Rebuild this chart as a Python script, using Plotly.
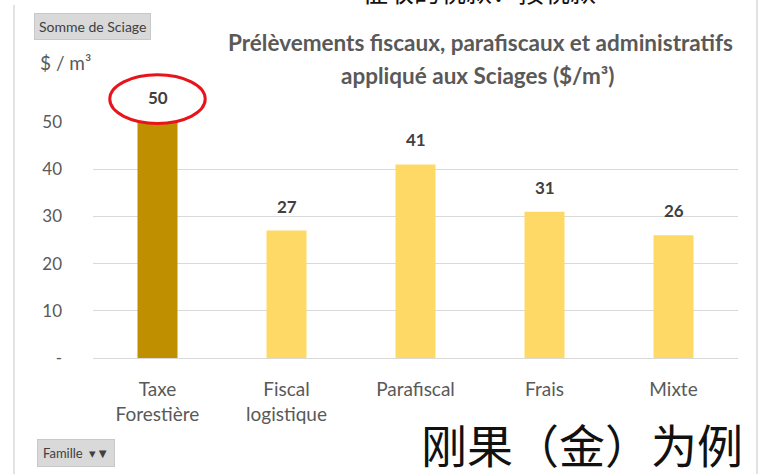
import plotly.graph_objects as go

categories = ["Taxe<br>Forestière", "Fiscal<br>logistique", "Parafiscal", "Frais", "Mixte"]
values = [50, 27, 41, 31, 26]
bar_colors = ["#BF8F00", "#FFD966", "#FFD966", "#FFD966", "#FFD966"]
y_tickvals = [0, 10, 20, 30, 40, 50]
y_ticktext = ["-", "10", "20", "30", "40", "50"]
y_max = 50

W, H = 767, 474
L, R, T, B = 93, 29, 122, 116
pw, ph = W - L - R, H - T - B
n = len(categories)

def px_x(p):
    return (p - L) / pw

def px_y(p):
    return (H - B - p) / ph

FONT = "Lato"
GRAY = "#595959"

fig = go.Figure()
fig.add_trace(go.Bar(
    x=list(range(n)), y=values,
    marker=dict(color=bar_colors, line=dict(width=0)),
    width=0.31, hoverinfo="skip",
))

annotations = []
for i, v in enumerate(values):
    annotations.append(dict(
        x=i, y=v, xref="x", yref="y", text=f"<b>{v}</b>", showarrow=False,
        yanchor="bottom", yshift=12, font=dict(family=FONT, size=17, color="#404040"),
    ))

annotations += [
    dict(x=px_x(480), y=px_y(42), xref="paper", yref="paper",
         text="<b>Prélèvements fiscaux, parafiscaux et administratifs</b>",
         showarrow=False, xanchor="center", yanchor="middle",
         font=dict(family=FONT, size=22.5, color=GRAY)),
    dict(x=px_x(477), y=px_y(75), xref="paper", yref="paper",
         text="<b>appliqué aux Sciages ($/m³)</b>",
         showarrow=False, xanchor="center", yanchor="middle",
         font=dict(family=FONT, size=22.5, color=GRAY)),
    dict(x=px_x(38), y=px_y(62), xref="paper", yref="paper", text="$ / m³",
         showarrow=False, xanchor="left", yanchor="middle",
         font=dict(family=FONT, size=19, color=GRAY)),
    dict(x=px_x(92), y=px_y(26), xref="paper", yref="paper", text="Somme de Sciage",
         showarrow=False, xanchor="center", yanchor="middle",
         bgcolor="#D9D9D9", bordercolor="#C8C8C8", borderwidth=1, borderpad=4,
         font=dict(family=FONT, size=14, color="#404040")),
    dict(x=px_x(76), y=px_y(453), xref="paper", yref="paper", text="Famille  ▾<b>▼</b>",
         showarrow=False, xanchor="center", yanchor="middle",
         bgcolor="#D9D9D9", bordercolor="#C8C8C8", borderwidth=1, borderpad=5,
         font=dict(family=FONT, size=13, color="#404040")),
    dict(x=px_x(582), y=px_y(443), xref="paper", yref="paper", text="刚果（金）为例",
         showarrow=False, xanchor="center", yanchor="middle",
         font=dict(family="Noto Sans CJK SC", size=46, color="#111111")),
    dict(x=px_x(479), y=px_y(11), xref="paper", yref="paper", text="征收的税款：按税款",
         showarrow=False, xanchor="center", yanchor="bottom",
         font=dict(family="Noto Sans CJK SC", size=26, color="#111111")),
]

cx0 = 0.5 / n
shapes = [
    dict(type="circle", xref="paper", yref="paper",
         x0=cx0 - 0.37 / n, x1=cx0 + 0.37 / n,
         y0=(values[0] - 0.3) / y_max, y1=(values[0] + 10) / y_max,
         line=dict(color="#E8141B", width=3)),
    dict(type="line", xref="paper", yref="paper", x0=px_x(14), x1=px_x(14),
         y0=px_y(5), y1=px_y(474), line=dict(color="#D9D9D9", width=1.5)),
    dict(type="line", xref="paper", yref="paper", x0=px_x(757), x1=px_x(757),
         y0=px_y(0), y1=px_y(474), line=dict(color="#D9D9D9", width=1.5)),
]

fig.update_layout(
    width=W, height=H, margin=dict(l=L, r=R, t=T, b=B),
    paper_bgcolor="white", plot_bgcolor="white", showlegend=False,
    annotations=annotations, shapes=shapes,
    xaxis=dict(tickmode="array", tickvals=list(range(n)), ticktext=categories,
               range=[-0.5, n - 0.5], showgrid=False, zeroline=False,
               showline=False, ticks="", tickfont=dict(family=FONT, size=19, color=GRAY),
               ticklabelstandoff=18),
    yaxis=dict(range=[0, y_max], tickmode="array", tickvals=y_tickvals, ticktext=y_ticktext,
               showgrid=True, gridcolor="#D9D9D9", gridwidth=1.2, zeroline=True,
               zerolinecolor="#D9D9D9", zerolinewidth=1.2, showline=False, ticks="",
               tickfont=dict(family=FONT, size=17, color=GRAY), ticklabelstandoff=30),
)

fig.write_html("out.html", config={"displayModeBar": False},
               post_script="document.body.style.margin='0';")
